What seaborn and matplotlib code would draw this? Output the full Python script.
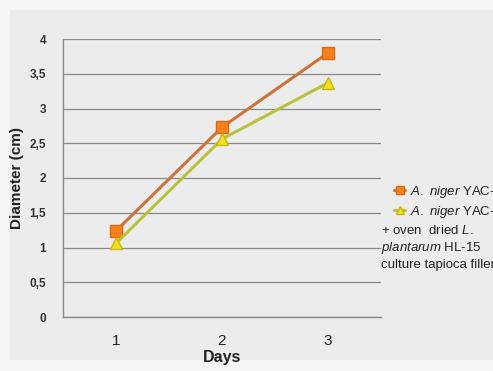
import numpy as np
import pandas as pd
import matplotlib
matplotlib.use("Agg")
import matplotlib.pyplot as plt
from matplotlib.patches import Rectangle
import seaborn as sns

# data
days = [1, 2, 3]
control = [1.24, 2.73, 3.80]
treated = [1.06, 2.56, 3.37]
series_names = ["A. niger YAC-9", "A. niger YAC-9 + L. plantarum"]
y_ticks = [0, 0.5, 1, 1.5, 2, 2.5, 3, 3.5, 4]
y_labels = ["0", "0,5", "1", "1,5", "2", "2,5", "3", "3,5", "4"]

sns.set_style("white")
plt.rcParams["font.family"] = ["Liberation Sans", "DejaVu Sans"]
plt.rcParams["mathtext.fontset"] = "custom"
plt.rcParams["mathtext.it"] = "Liberation Sans:italic"
plt.rcParams["mathtext.rm"] = "Liberation Sans"

df = pd.DataFrame({
    "Days": days * 2,
    "Diameter": control + treated,
    "series": [series_names[0]] * 3 + [series_names[1]] * 3,
})

fig = plt.figure(figsize=(4.93, 3.71), dpi=100, facecolor="#f5f5f5")
fig.patches.append(Rectangle((10 / 493, 1 - 360 / 371), 483 / 493, 350 / 371,
                             transform=fig.transFigure, facecolor="#ececec",
                             edgecolor="none", zorder=-10))
ax = fig.add_axes([63 / 493, 1 - 317 / 371, (381 - 63) / 493, (317 - 39) / 371])
ax.set_facecolor("none")

line_cols = ["#c8743a", "#b9c23a"]
face_cols = ["#f5821f", "#f2e01e"]
edge_cols = ["#d86a10", "#c8b810"]
markers = ["s", "^"]
handles = []
for i, name in enumerate(series_names):
    sub = df[df["series"] == name]
    sns.lineplot(data=sub, x="Days", y="Diameter", ax=ax, color=line_cols[i],
                 lw=2.2, marker=markers[i], markersize=8,
                 markerfacecolor=face_cols[i], markeredgecolor=edge_cols[i],
                 markeredgewidth=1, legend=False, zorder=3 + i)
    handles.append(ax.lines[-1])

ax.set_xlim(0.5, 3.5)
ax.set_ylim(0, 4)
ax.set_yticks(y_ticks)
ax.set_yticklabels(y_labels)
ax.set_xticks(days)
ax.set_xticks([0.5, 1.5, 2.5, 3.5], minor=True)
ax.tick_params(axis="x", which="major", length=0, pad=12, labelsize=11,
               labelcolor="#222222")
ax.tick_params(axis="x", which="minor", length=6, color="#888888", width=1)
ax.tick_params(axis="y", length=6, color="#888888", width=1, labelsize=8.5,
               labelcolor="#333333", pad=6)
for lab in ax.get_yticklabels():
    lab.set_fontweight("bold")

ax.grid(axis="y", color="#8a8a8a", lw=0.9)
ax.set_axisbelow(True)
for s in ["top", "right"]:
    ax.spines[s].set_visible(False)
for s in ["left", "bottom"]:
    ax.spines[s].set_color("#888888")
    ax.spines[s].set_linewidth(1)

ax.set_xlabel("Days", fontsize=11.5, fontweight="bold", color="#222222", labelpad=2)
ax.set_ylabel("Diameter (cm)", fontsize=11, fontweight="bold", color="#222222",
              labelpad=4)

leg_labels = [r"$\it{A.\ niger}$ YAC-9", r"$\it{A.\ niger}$ YAC-9"]
leg = ax.legend(handles, leg_labels, loc="upper left",
                bbox_to_anchor=(387 / 493, 1 - 177 / 371),
                bbox_transform=fig.transFigure, frameon=False, fontsize=9.5,
                handlelength=0.9, handletextpad=0.35, labelspacing=0.3,
                borderpad=0, markerscale=0.65)
for t in leg.get_texts():
    t.set_color("#222222")

extra = [r"+ oven  dried $\it{L.}$", r"$\it{plantarum}$ HL-15",
         "culture tapioca filler"]
for k, line in enumerate(extra):
    fig.text(381 / 493, 1 - (234 + 17 * k) / 371, line, fontsize=9.5,
             color="#222222", va="baseline")

fig.savefig("out.png", dpi=100, facecolor=fig.get_facecolor())
